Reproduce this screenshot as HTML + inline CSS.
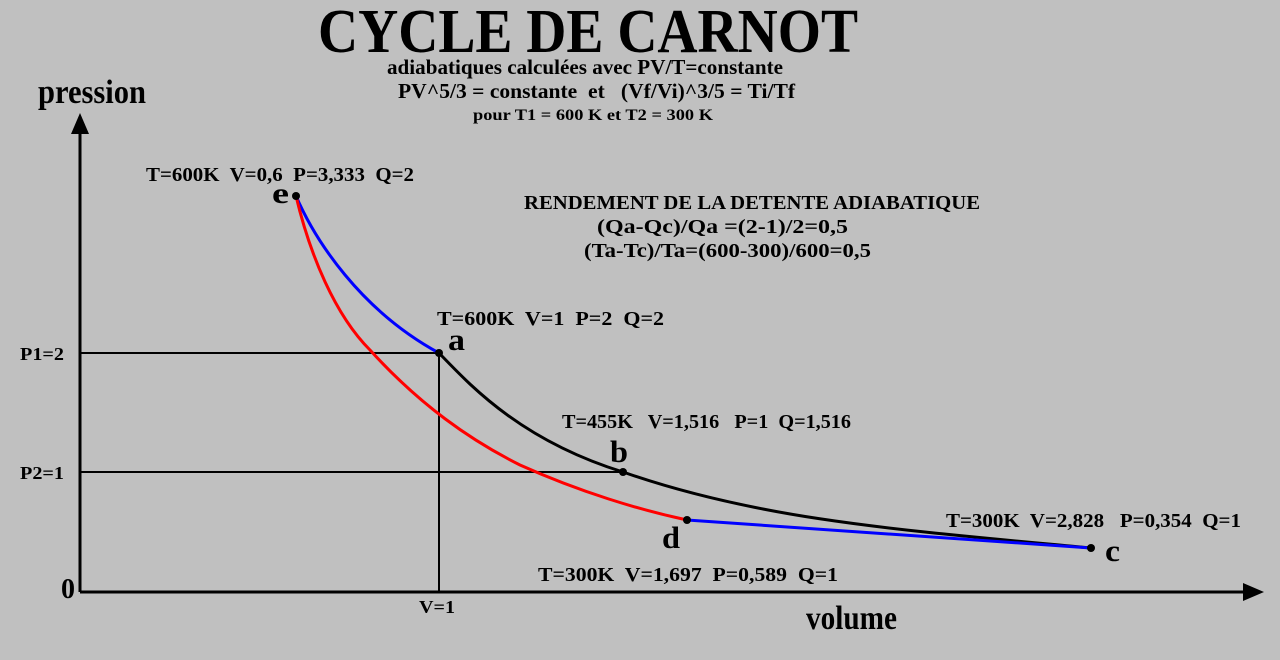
<!DOCTYPE html>
<html><head><meta charset="utf-8"><style>
html,body{margin:0;padding:0;background:#c0c0c0;}
svg{display:block;}
text{font-family:"Liberation Serif",serif;font-weight:bold;fill:#000;white-space:pre;}
</style></head><body>
<svg width="1280" height="660" viewBox="0 0 1280 660" xmlns="http://www.w3.org/2000/svg" xml:space="preserve">
<rect width="1280" height="660" fill="#c0c0c0"/>
<text x="318" y="52" font-size="62" textLength="540" lengthAdjust="spacingAndGlyphs">CYCLE DE CARNOT</text>
<text x="387" y="74" font-size="21" textLength="396" lengthAdjust="spacingAndGlyphs">adiabatiques calculées avec PV/T=constante</text>
<text x="398" y="98" font-size="21" textLength="397" lengthAdjust="spacingAndGlyphs">PV^5/3 = constante  et   (Vf/Vi)^3/5 = Ti/Tf</text>
<text x="473" y="120" font-size="16" textLength="240" lengthAdjust="spacingAndGlyphs">pour T1 = 600 K et T2 = 300 K</text>
<text x="38" y="103" font-size="34" textLength="108" lengthAdjust="spacingAndGlyphs">pression</text>
<text x="806" y="629" font-size="34" textLength="91" lengthAdjust="spacingAndGlyphs">volume</text>
<line x1="80" y1="592" x2="80" y2="132" stroke="#000" stroke-width="3"/>
<polygon points="80,113 71,134 89,134" fill="#000"/>
<line x1="80" y1="592" x2="1245" y2="592" stroke="#000" stroke-width="3"/>
<polygon points="1264,592 1243,583 1243,601" fill="#000"/>
<line x1="80" y1="353" x2="439" y2="353" stroke="#000" stroke-width="2"/>
<line x1="80" y1="472" x2="623" y2="472" stroke="#000" stroke-width="2"/>
<line x1="439" y1="353" x2="439" y2="592" stroke="#000" stroke-width="2"/>
<path d="M296,196 C315,240 360,310 439,353" fill="none" stroke="#0000ff" stroke-width="3"/>
<path d="M296,196 C310,255 335,315 370,350 C420,405 470,440 520,465 C580,492 640,510 687,520" fill="none" stroke="#ff0000" stroke-width="3"/>
<path d="M439,353 C470,385 520,440 623,472 C760,520 900,530 1091,548" fill="none" stroke="#000" stroke-width="3"/>
<path d="M687,520 L1091,548" fill="none" stroke="#0000ff" stroke-width="3"/>
<g fill="#000">
<circle cx="296" cy="196" r="4"/><circle cx="439" cy="353" r="4"/><circle cx="623" cy="472" r="4"/><circle cx="687" cy="520" r="4"/><circle cx="1091" cy="548" r="4"/>
</g>
<text x="146" y="181" font-size="20" textLength="268" lengthAdjust="spacingAndGlyphs">T=600K  V=0,6  P=3,333  Q=2</text>
<text x="272" y="203" font-size="30" textLength="17" lengthAdjust="spacingAndGlyphs">e</text>
<text x="524" y="209" font-size="20" textLength="456" lengthAdjust="spacingAndGlyphs">RENDEMENT DE LA DETENTE ADIABATIQUE</text>
<text x="597" y="233" font-size="20" textLength="251" lengthAdjust="spacingAndGlyphs">(Qa-Qc)/Qa =(2-1)/2=0,5</text>
<text x="584" y="257" font-size="20" textLength="287" lengthAdjust="spacingAndGlyphs">(Ta-Tc)/Ta=(600-300)/600=0,5</text>
<text x="437" y="325" font-size="20" textLength="227" lengthAdjust="spacingAndGlyphs">T=600K  V=1  P=2  Q=2</text>
<text x="448" y="350" font-size="31" textLength="17" lengthAdjust="spacingAndGlyphs">a</text>
<text x="562" y="428" font-size="20" textLength="289" lengthAdjust="spacingAndGlyphs">T=455K   V=1,516   P=1  Q=1,516</text>
<text x="610" y="462" font-size="31" textLength="18" lengthAdjust="spacingAndGlyphs">b</text>
<text x="20" y="360" font-size="18" textLength="44" lengthAdjust="spacingAndGlyphs">P1=2</text>
<text x="20" y="479" font-size="18" textLength="44" lengthAdjust="spacingAndGlyphs">P2=1</text>
<text x="61" y="598" font-size="28">0</text>
<text x="419" y="613" font-size="18" textLength="36" lengthAdjust="spacingAndGlyphs">V=1</text>
<text x="946" y="527" font-size="20" textLength="295" lengthAdjust="spacingAndGlyphs">T=300K  V=2,828   P=0,354  Q=1</text>
<text x="1105" y="561" font-size="31" textLength="15" lengthAdjust="spacingAndGlyphs">c</text>
<text x="662" y="548" font-size="31" textLength="18" lengthAdjust="spacingAndGlyphs">d</text>
<text x="538" y="581" font-size="20" textLength="300" lengthAdjust="spacingAndGlyphs">T=300K  V=1,697  P=0,589  Q=1</text>
</svg>
</body></html>
